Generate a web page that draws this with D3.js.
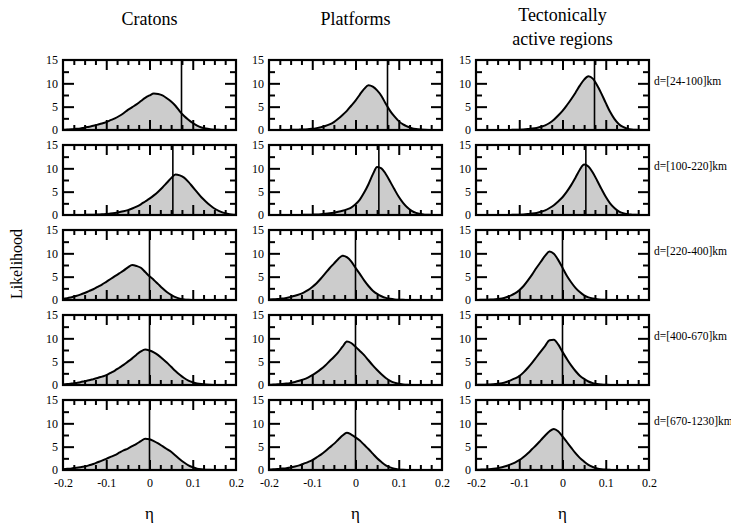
<!DOCTYPE html>
<html><head><meta charset="utf-8">
<script src="https://cdn.jsdelivr.net/npm/d3@7"></script>
<style>
body{margin:0;background:#fff}
svg{display:block}
text{font-family:"Liberation Serif","Times New Roman",serif;fill:#000}
</style>
</head><body>
<svg id="chart" width="731" height="528"></svg>
<script>
// ---------- data ----------
const eta = [-0.20,-0.19,-0.18,-0.17,-0.16,-0.15,-0.14,-0.13,-0.12,-0.11,-0.10,-0.09,-0.08,-0.07,-0.06,-0.05,-0.04,-0.03,-0.02,-0.01,
  0.00,0.01,0.02,0.03,0.04,0.05,0.06,0.07,0.08,0.09,0.10,0.11,0.12,0.13,0.14,0.15,0.16,0.17,0.18,0.19,0.20];

const regions = ["Cratons", "Platforms", "Tectonically|active regions"];
const depthLabels = ["d=[24-100]km","d=[100-220]km","d=[220-400]km","d=[400-670]km","d=[670-1230]km"];
const observedEta = [0.074, 0.054, 0, 0, 0];

const yTickValues = [0, 5, 10, 15];
const yTickLabels = ["0", "5", "10", "15"];
const xTickValues = [-0.2, -0.1, 0, 0.1, 0.2];
const xTickLabels = ["-0.2", "-0.1", "0", "0.1", "0.2"];
const xMajorTicks = [-0.1, 0, 0.1];
const xMinorTicks = [-0.175,-0.15,-0.125,-0.075,-0.05,-0.025,0.025,0.05,0.075,0.125,0.15,0.175];
const yMajorTicks = [5, 10];
const yMinorTicks = [2.5, 7.5, 12.5];

// Cratons
const cratons_24_100 = [0.05,0.1,0.15,0.25,0.35,0.5,0.7,0.9,1.15,1.4,1.7,2.1,2.5,3.0,3.6,4.3,4.9,5.5,6.2,6.9,
  7.4,7.8,7.7,7.4,6.8,6.1,5.2,4.0,3.0,2.2,1.5,0.95,0.55,0.3,0.15,0.07,0.03,0.02,0.01,0,0];
const cratons_100_220 = [0,0,0,0.01,0.01,0.02,0.04,0.07,0.1,0.15,0.22,0.3,0.42,0.6,0.8,1.05,1.4,1.8,2.3,2.9,
  3.5,4.2,5.0,5.9,6.9,7.9,8.7,8.5,8.0,7.1,6.0,4.9,3.8,2.9,2.1,1.4,0.9,0.5,0.25,0.1,0.05];
const cratons_220_400 = [0.2,0.4,0.6,0.85,1.15,1.5,1.9,2.3,2.8,3.3,3.9,4.5,5.1,5.7,6.3,7.0,7.5,7.3,6.9,6.0,
  5.1,4.3,3.4,2.5,1.7,1.1,0.6,0.3,0.12,0.05,0.02,0,0,0,0,0,0,0,0,0,0];
const cratons_400_670 = [0.1,0.2,0.3,0.45,0.6,0.8,1.0,1.25,1.5,1.8,2.1,2.6,3.1,3.7,4.3,5.0,5.7,6.5,7.2,7.6,
  7.4,7.0,6.4,5.6,4.8,3.9,3.0,2.2,1.5,0.95,0.6,0.35,0.2,0.1,0.05,0.02,0.01,0,0,0,0];
const cratons_670_1230 = [0.15,0.25,0.35,0.5,0.6,0.75,1.0,1.3,1.65,2.0,2.4,2.8,3.2,3.7,4.2,4.6,5.1,5.6,6.2,6.7,
  6.6,6.2,5.7,5.1,4.5,3.9,3.1,2.3,1.6,1.0,0.6,0.3,0.15,0.07,0.03,0.01,0,0,0,0,0];

// Platforms
const platforms_24_100 = [0,0,0,0.01,0.02,0.03,0.05,0.08,0.12,0.18,0.25,0.4,0.6,0.85,1.2,1.7,2.4,3.2,4.1,5.2,
  6.3,7.6,8.8,9.6,9.3,8.5,7.3,5.6,4.1,2.9,1.9,1.2,0.75,0.4,0.2,0.1,0.05,0.02,0.01,0,0];
const platforms_100_220 = [0,0,0,0,0,0.01,0.01,0.02,0.03,0.05,0.08,0.12,0.18,0.26,0.36,0.5,0.68,0.9,1.2,1.6,
  2.3,3.3,4.8,6.6,8.7,10.3,10.0,8.8,7.2,5.5,3.9,2.6,1.6,0.9,0.45,0.2,0.08,0.03,0.01,0,0];
const platforms_220_400 = [0.1,0.15,0.22,0.3,0.45,0.65,0.9,1.2,1.6,2.1,2.8,3.6,4.6,5.7,6.8,7.8,8.8,9.5,9.2,8.3,
  6.9,5.6,4.2,3.0,2.0,1.3,0.8,0.45,0.25,0.12,0.06,0.03,0.01,0,0,0,0,0,0,0,0];
const platforms_400_670 = [0.05,0.1,0.15,0.2,0.3,0.45,0.65,0.9,1.2,1.6,2.1,2.7,3.4,4.2,5.1,6.0,7.0,8.2,9.3,9.0,
  8.2,7.3,6.4,5.3,4.2,3.2,2.3,1.5,0.9,0.5,0.25,0.12,0.05,0.02,0,0,0,0,0,0,0];
const platforms_670_1230 = [0.1,0.15,0.2,0.3,0.4,0.55,0.75,1.0,1.35,1.7,2.1,2.7,3.3,4.0,4.8,5.6,6.5,7.4,8.0,7.6,
  7.0,6.3,5.4,4.5,3.5,2.5,1.7,1.0,0.55,0.25,0.12,0.05,0.02,0,0,0,0,0,0,0,0];

// Tectonically active regions
const tectonic_24_100 = [0,0,0,0,0,0,0.01,0.01,0.02,0.04,0.07,0.12,0.2,0.3,0.45,0.7,1.0,1.5,2.2,3.1,
  4.1,5.3,6.6,8.0,9.5,10.8,11.5,11.0,9.6,7.8,5.8,3.9,2.4,1.3,0.65,0.3,0.12,0.05,0.02,0,0];
const tectonic_100_220 = [0,0,0,0,0,0,0.01,0.01,0.02,0.04,0.07,0.12,0.2,0.3,0.45,0.7,1.0,1.5,2.1,2.9,
  3.8,5.0,6.4,8.0,9.7,10.8,10.4,9.1,7.4,5.6,3.9,2.5,1.5,0.8,0.4,0.18,0.08,0.03,0.01,0,0];
const tectonic_220_400 = [0.02,0.03,0.05,0.08,0.12,0.2,0.35,0.6,0.95,1.4,2.1,3.0,4.2,5.5,6.9,8.2,9.5,10.4,9.9,8.6,
  6.9,5.2,3.8,2.6,1.7,1.0,0.55,0.3,0.15,0.07,0.03,0,0,0,0,0,0,0,0,0,0];
const tectonic_400_670 = [0.02,0.04,0.06,0.1,0.15,0.25,0.4,0.65,1.0,1.4,1.9,2.7,3.7,4.8,6.0,7.2,8.4,9.6,9.7,8.7,
  7.1,5.6,4.2,3.0,2.0,1.3,0.75,0.4,0.2,0.1,0.04,0,0,0,0,0,0,0,0,0,0];
const tectonic_670_1230 = [0.05,0.08,0.12,0.18,0.27,0.4,0.6,0.85,1.2,1.6,2.1,2.8,3.6,4.5,5.4,6.4,7.4,8.3,8.8,8.3,
  7.2,6.0,4.8,3.6,2.6,1.8,1.1,0.65,0.35,0.17,0.08,0.03,0,0,0,0,0,0,0,0,0];

const panelRows = [
  [cratons_24_100, platforms_24_100, tectonic_24_100],
  [cratons_100_220, platforms_100_220, tectonic_100_220],
  [cratons_220_400, platforms_220_400, tectonic_220_400],
  [cratons_400_670, platforms_400_670, tectonic_400_670],
  [cratons_670_1230, platforms_670_1230, tectonic_670_1230]
];

// ---------- layout ----------
const colX = [63, 269, 476];
const rowY = [60, 145, 230, 315, 400];
const W = 173, H = 70;

const svg = d3.select("#chart");
const x = d3.scaleLinear().domain([-0.2, 0.2]).range([0, W]);
const y = d3.scaleLinear().domain([0, 15]).range([H, 0]);

const area = d3.area().x((d, i) => x(eta[i])).y0(y(0)).y1(d => y(d)).curve(d3.curveMonotoneX);
const line = d3.line().x((d, i) => x(eta[i])).y(d => y(d)).curve(d3.curveMonotoneX);

function styleAxis(g, w) {
  g.select(".domain").remove();
  g.selectAll(".tick line").attr("stroke", "#000").attr("stroke-width", w);
  g.selectAll(".tick text").remove();
}

panelRows.forEach((row, r) => {
  row.forEach((vals, c) => {
    const g = svg.append("g").attr("transform", `translate(${colX[c]},${rowY[r]})`);
    g.append("path").datum(vals).attr("d", area).attr("fill", "#cccccc");
    g.append("path").datum(vals).attr("d", line).attr("fill", "none")
      .attr("stroke", "#000").attr("stroke-width", 2).attr("stroke-linejoin", "round");
    g.append("line").attr("x1", x(observedEta[r])).attr("x2", x(observedEta[r]))
      .attr("y1", 0).attr("y2", H).attr("stroke", "#000").attr("stroke-width", 1.6);
    g.append("g").attr("transform", `translate(0,${H})`)
      .call(d3.axisBottom(x).tickValues(xMajorTicks).tickSize(-10).tickFormat(""))
      .call(a => styleAxis(a, 2));
    g.append("g").attr("transform", `translate(0,${H})`)
      .call(d3.axisBottom(x).tickValues(xMinorTicks).tickSize(-5).tickFormat(""))
      .call(a => styleAxis(a, 2));
    g.append("g")
      .call(d3.axisTop(x).tickValues(xMajorTicks).tickSize(-10).tickFormat(""))
      .call(a => styleAxis(a, 2));
    g.append("g")
      .call(d3.axisTop(x).tickValues(xMinorTicks).tickSize(-5).tickFormat(""))
      .call(a => styleAxis(a, 2));
    g.append("g")
      .call(d3.axisLeft(y).tickValues(yMajorTicks).tickSize(-11).tickFormat(""))
      .call(a => styleAxis(a, 2));
    g.append("g")
      .call(d3.axisLeft(y).tickValues(yMinorTicks).tickSize(-6).tickFormat(""))
      .call(a => styleAxis(a, 2));
    g.append("g").attr("transform", `translate(${W},0)`)
      .call(d3.axisRight(y).tickValues(yMajorTicks).tickSize(-11).tickFormat(""))
      .call(a => styleAxis(a, 2));
    g.append("g").attr("transform", `translate(${W},0)`)
      .call(d3.axisRight(y).tickValues(yMinorTicks).tickSize(-6).tickFormat(""))
      .call(a => styleAxis(a, 2));
    g.append("rect").attr("x", 0).attr("y", 0).attr("width", W).attr("height", H)
      .attr("fill", "none").attr("stroke", "#000").attr("stroke-width", 2.2);
    const yl = d3.axisLeft(y).tickValues(yTickValues).tickSize(0).tickPadding(5)
      .tickFormat((d, i) => yTickLabels[i]);
    g.append("g").call(yl).call(a => {
      a.select(".domain").remove();
      a.selectAll("text").attr("font-size", 12).attr("font-family", '"Liberation Serif",serif').attr("fill", "#000");
    });
    if (r === panelRows.length - 1) {
      const xl = d3.axisBottom(x).tickValues(xTickValues).tickSize(0).tickPadding(8)
        .tickFormat((d, i) => xTickLabels[i]);
      g.append("g").attr("transform", `translate(0,${H})`).call(xl).call(a => {
        a.select(".domain").remove();
        a.selectAll("text").attr("font-size", 12).attr("font-family", '"Liberation Serif",serif').attr("fill", "#000");
      });
    }
  });
  svg.append("text").attr("x", colX[2] + W + 5).attr("y", rowY[r] + 21)
    .attr("dominant-baseline", "central").attr("font-size", 11.5).text(depthLabels[r]);
});

regions.forEach((t, c) => {
  const lines = t.split("|");
  const cx = colX[c] + W / 2;
  if (lines.length === 1) {
    svg.append("text").attr("x", cx).attr("y", 25).attr("text-anchor", "middle")
      .attr("font-size", 18).text(lines[0]);
  } else {
    lines.forEach((l, k) => {
      svg.append("text").attr("x", cx).attr("y", 21 + k * 23.5).attr("text-anchor", "middle")
        .attr("font-size", 18).text(l);
    });
  }
  svg.append("text").attr("x", cx).attr("y", 519).attr("text-anchor", "middle")
    .attr("font-size", 17).text("η");
});

svg.append("text").attr("transform", "translate(21.5,264) rotate(-90)")
  .attr("text-anchor", "middle").attr("font-size", 16).text("Likelihood");
</script>
</body></html>
